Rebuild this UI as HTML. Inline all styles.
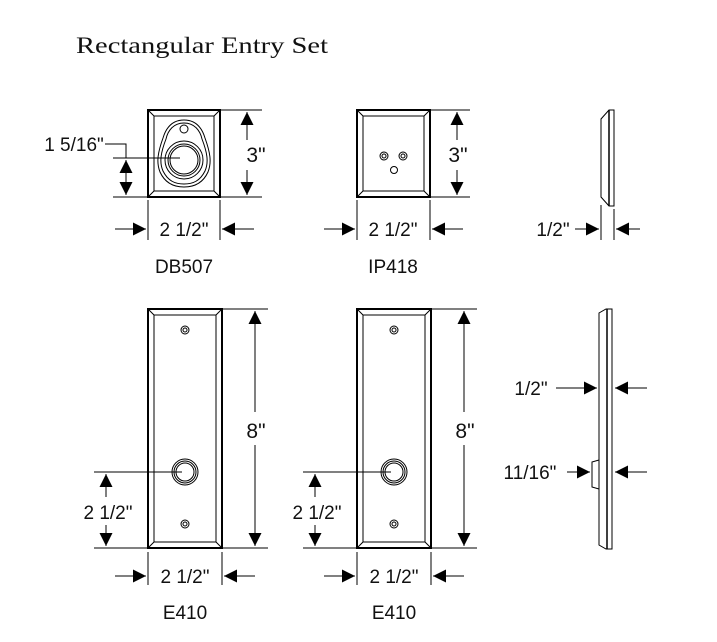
<!DOCTYPE html>
<html><head><style>
html,body{margin:0;padding:0;background:#fff;}
svg{display:block;}
text{font-family:"Liberation Sans",sans-serif;font-size:19px;fill:#111;}
</style></head><body>
<svg width="717" height="642" viewBox="0 0 717 642" xmlns="http://www.w3.org/2000/svg">
<defs>
<marker id="a" viewBox="0 0 10 10" refX="10" refY="5" markerWidth="14" markerHeight="13" markerUnits="userSpaceOnUse" orient="auto"><path d="M0,0 L10,5 L0,10 z" fill="#000"/></marker>
</defs>
<text x="76" y="53" textLength="252" lengthAdjust="spacingAndGlyphs" style="font-family:'Liberation Serif',serif;font-size:23px">Rectangular Entry Set</text>

<g stroke="#000" fill="none" stroke-width="1">
<!-- DB507 -->
<rect x="148" y="110" width="72" height="87" stroke-width="2"/>
<rect x="154" y="116" width="60" height="75"/>
<path d="M148,110L154,116M220,110L214,116M148,197L154,191M220,197L214,191"/>
<path d="M184,120 C196,120 202,128 205,138 C210,152 212,162 208,172 C203,183 194,187 184,187 C174,187 165,183 160,172 C156,162 158,152 163,138 C166,128 172,120 184,120 Z"/>
<path d="M184,123 C194,123 200,130 202,139 C207,152 209,162 205,171 C200,181 193,184 184,184 C175,184 168,181 163,171 C159,162 161,152 166,139 C168,130 174,123 184,123 Z"/>
<circle cx="184" cy="129" r="4"/>
<circle cx="184" cy="160" r="19"/><circle cx="184" cy="160" r="16"/><circle cx="184" cy="160" r="14"/>
<path d="M220,110H262M220,197H262"/>
<path d="M247,140V112" marker-end="url(#a)"/><path d="M247,170V195" marker-end="url(#a)"/>
<path d="M105,144H126V158M113,158H180M113,197H148"/>
<path d="M126,178V160" marker-end="url(#a)"/><path d="M126,175V195" marker-end="url(#a)"/>
<path d="M148,200V240M220,200V240"/>
<path d="M115,229H146" marker-end="url(#a)"/><path d="M254,229H222" marker-end="url(#a)"/>
<!-- IP418 -->
<rect x="357" y="110" width="73" height="87" stroke-width="2"/>
<rect x="363" y="116" width="61" height="75"/>
<path d="M357,110L363,116M430,110L424,116M357,197L363,191M430,197L424,191"/>
<circle cx="384" cy="156" r="4"/><circle cx="384" cy="156" r="2"/>
<circle cx="403" cy="156" r="4"/><circle cx="403" cy="156" r="2"/>
<circle cx="394" cy="170" r="3.5"/>
<path d="M430,110H470M430,197H470"/>
<path d="M457,140V112" marker-end="url(#a)"/><path d="M457,170V195" marker-end="url(#a)"/>
<path d="M357,200V240M430,200V240"/>
<path d="M324,229H355" marker-end="url(#a)"/><path d="M463,229H432" marker-end="url(#a)"/>
<!-- side top -->
<path d="M609,110H614V206H609L601,197V119Z"/><path d="M609,110V206" stroke-width="1.5"/>
<path d="M601,205V240M614,209V240"/>
<path d="M575,229H599" marker-end="url(#a)"/><path d="M640,229H616" marker-end="url(#a)"/>
<!-- E410 left -->
<rect x="148" y="309" width="74" height="239" stroke-width="2"/>
<rect x="154" y="315" width="62" height="227"/>
<path d="M148,309L154,315M222,309L216,315M148,548L154,542M222,548L216,542"/>
<circle cx="185" cy="330" r="4"/><circle cx="185" cy="330" r="2"/>
<circle cx="185" cy="524" r="4"/><circle cx="185" cy="524" r="2"/>
<circle cx="185" cy="472" r="13"/><circle cx="185" cy="472" r="11"/><circle cx="185" cy="472" r="9"/>
<path d="M222,309H268M222,548H268"/>
<path d="M255,412V311" marker-end="url(#a)"/><path d="M255,445V546" marker-end="url(#a)"/>
<path d="M94,472H182M94,548H148"/>
<path d="M106,497V474" marker-end="url(#a)"/><path d="M106,525V546" marker-end="url(#a)"/>
<path d="M148,552V585M222,552V585"/>
<path d="M115,576H146" marker-end="url(#a)"/><path d="M255,576H224" marker-end="url(#a)"/>
<!-- E410 right -->
<g transform="translate(209,0)">
<rect x="148" y="309" width="74" height="239" stroke-width="2"/>
<rect x="154" y="315" width="62" height="227"/>
<path d="M148,309L154,315M222,309L216,315M148,548L154,542M222,548L216,542"/>
<circle cx="185" cy="330" r="4"/><circle cx="185" cy="330" r="2"/>
<circle cx="185" cy="524" r="4"/><circle cx="185" cy="524" r="2"/>
<circle cx="185" cy="472" r="13"/><circle cx="185" cy="472" r="11"/><circle cx="185" cy="472" r="9"/>
<path d="M222,309H268M222,548H268"/>
<path d="M255,412V311" marker-end="url(#a)"/><path d="M255,445V546" marker-end="url(#a)"/>
<path d="M94,472H182M94,548H148"/>
<path d="M106,497V474" marker-end="url(#a)"/><path d="M106,525V546" marker-end="url(#a)"/>
<path d="M148,552V585M222,552V585"/>
<path d="M115,576H146" marker-end="url(#a)"/><path d="M255,576H224" marker-end="url(#a)"/>
</g>
<!-- side bottom -->
<path d="M606,309H612V549H606L599,545V313Z"/><path d="M607,309V549" stroke-width="1.5"/>
<path d="M599,460L592,462V487L599,489"/>
<path d="M556,388H597" marker-end="url(#a)"/><path d="M647,388H615" marker-end="url(#a)"/>
<path d="M567,472H590" marker-end="url(#a)"/><path d="M647,472H615" marker-end="url(#a)"/>
</g>

<g text-anchor="middle">
<text x="184" y="236">2 1/2"</text>
<text x="393" y="236">2 1/2"</text>
<text x="184" y="273">DB507</text>
<text x="393" y="273">IP418</text>
<text x="256" y="162" style="font-size:21px;">3"</text>
<text x="458" y="162" style="font-size:21px;">3"</text>
<text x="74" y="151">1 5/16"</text>
<text x="553" y="236">1/2"</text>
<text x="256" y="438" style="font-size:21px;">8"</text>
<text x="465" y="438" style="font-size:21px;">8"</text>
<text x="108" y="519">2 1/2"</text>
<text x="317" y="519">2 1/2"</text>
<text x="185" y="583">2 1/2"</text>
<text x="394" y="583">2 1/2"</text>
<text x="185" y="619">E410</text>
<text x="394" y="619">E410</text>
<text x="531" y="395">1/2"</text>
<text x="530" y="479">11/16"</text>
</g>
</svg>
</body></html>
